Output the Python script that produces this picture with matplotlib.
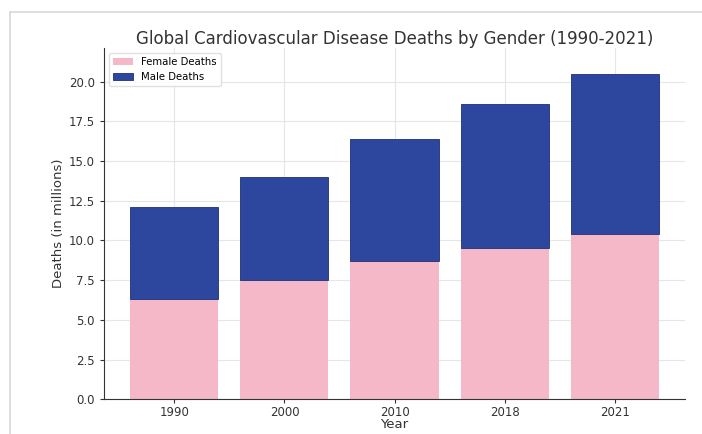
import numpy as np
import matplotlib
matplotlib.use('Agg')
import matplotlib.pyplot as plt
from matplotlib.lines import Line2D

years = ['1990', '2000', '2010', '2018', '2021']
female = [6.3, 7.5, 8.7, 9.5, 10.4]
male = [5.8, 6.5, 7.7, 9.1, 10.1]

fig = plt.figure(figsize=(7.02, 4.34), dpi=100)
ax = fig.add_axes([0.148, 0.080, 0.828, 0.809])

x = np.arange(len(years))
ax.bar(x, female, width=0.8, color='#f5b8c8', label='Female Deaths', zorder=2)
ax.bar(x, male, width=0.8, bottom=female, color='#2d479e', edgecolor='#1f2f78',
       linewidth=0.6, label='Male Deaths', zorder=2)

ax.set_xticks(x)
ax.set_xticklabels(years)
ax.set_ylim(0, 22.1)
ax.set_yticks(np.arange(0, 20.1, 2.5))
ax.set_yticklabels([f'{v:.1f}' for v in np.arange(0, 20.1, 2.5)])
ax.tick_params(labelsize=8.5, colors='#333333', length=3)
ax.tick_params(axis='x', pad=2)
ax.grid(True, color='#e6e6e6', linewidth=0.8, zorder=0)
ax.set_axisbelow(True)
for s in ['top', 'right']:
    ax.spines[s].set_visible(False)
for s in ['left', 'bottom']:
    ax.spines[s].set_color('#333333')

ax.set_xlabel('Year', fontsize=9.5, color='#333333', labelpad=-1)
ax.set_ylabel('Deaths (in millions)', fontsize=9.5, color='#333333', labelpad=3)
ax.set_title('Global Cardiovascular Disease Deaths by Gender (1990-2021)',
             fontsize=12, color='#333333', pad=3)
ax.legend(loc='upper left', fontsize=7.3, framealpha=0.9, edgecolor='#dddddd')

# screenshot frame
fig.add_artist(Line2D([0.014, 0.014], [0, 0.972], color='#d8d8d8', linewidth=1.2,
                      transform=fig.transFigure))
fig.add_artist(Line2D([0.014, 1.0], [0.972, 0.972], color='#d8d8d8', linewidth=1.2,
                      transform=fig.transFigure))

fig.savefig('out.png', dpi=100)
